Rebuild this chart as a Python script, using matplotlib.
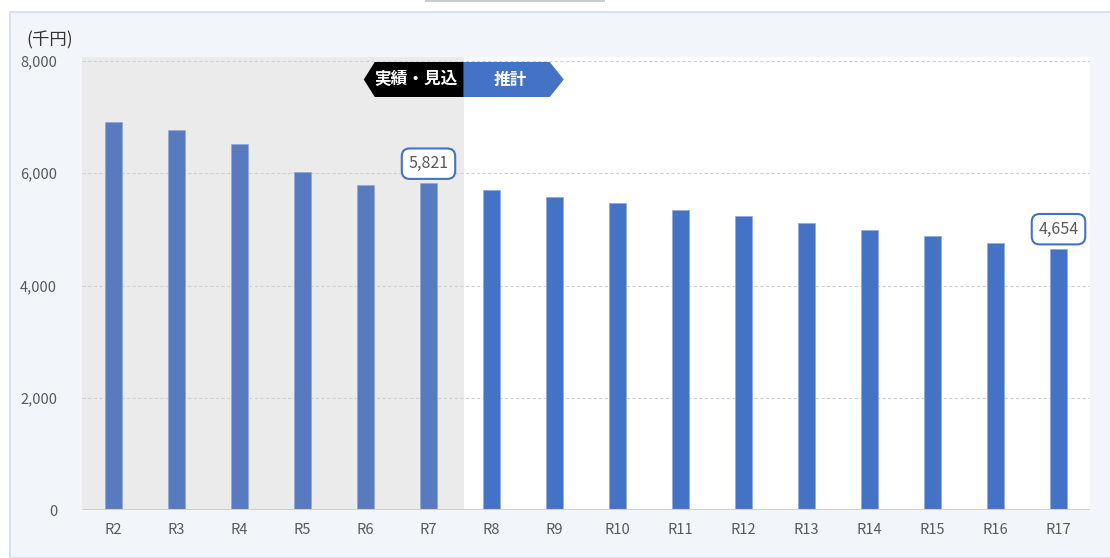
import matplotlib.pyplot as plt
from matplotlib.patches import Polygon, Rectangle
import matplotlib.transforms as mtransforms
import numpy as np

plt.rcParams['font.family'] = ['Noto Sans CJK JP', 'DejaVu Sans']

## data
years = ['R2', 'R3', 'R4', 'R5', 'R6', 'R7', 'R8', 'R9', 'R10',
         'R11', 'R12', 'R13', 'R14', 'R15', 'R16', 'R17']
values = [6910, 6770, 6520, 6025, 5790, 5821, 5705, 5580, 5470,
          5350, 5240, 5115, 4990, 4885, 4760, 4654]
n_actual = 6  # R2..R7 actual / forecast
labeled = {'R7': 5821, 'R17': 4654}
yticks = [0, 2000, 4000, 6000, 8000]

text_color = '#595959'
c_actual = '#587bbf'
c_forecast = '#4472c4'

W, H = 1110, 558
fig = plt.figure(figsize=(W / 100, H / 100), dpi=100)

# outer panel
fig.patches.append(Rectangle((10 / W, 0), 1.2, (H - 12) / H, transform=fig.transFigure,
                             facecolor='#f2f5fa', edgecolor='#d9e1ef', lw=1.5, zorder=-2))
fig.patches.append(Rectangle((425 / W, (H - 2) / H), 180 / W, 2 / H, transform=fig.transFigure,
                             facecolor='#c8ccd4', edgecolor='none', zorder=-2))

ax = fig.add_axes([82 / W, 48 / H, (1090 - 82) / W, (510 - 57) / H])
ax.set_facecolor('white')

x = np.arange(len(years))
colors = [c_actual if i < n_actual else c_forecast for i in range(len(years))]
ax.bar(x, values, width=0.27, color=colors, edgecolor='#8fa9da', linewidth=0.5, zorder=3)

ax.set_xlim(-0.5, len(years) - 0.5)
ax.set_ylim(0, 8000 * (510 - 57) / (510 - 61))

# shaded actual region
split = n_actual - 0.5
ax.axvspan(-0.5, split + 0.06, color='#ebebeb', zorder=0, lw=0)

for t in yticks[1:]:
    ax.axhline(t, color='#cfcfcf', lw=0.8, ls=(0, (3, 2)), zorder=1)
ax.axhline(0, color='#d0d0d0', lw=1.5, zorder=4)

ax.set_xticks(x)
ax.set_xticklabels(years, fontsize=10.5, color=text_color)
ax.set_yticks(yticks)
ax.set_yticklabels([f'{v:,}' for v in yticks], fontsize=10.5, color=text_color)
ax.tick_params(length=0, pad=9)
ax.tick_params(axis='y', pad=18)
for s in ax.spines.values():
    s.set_visible(False)

fig.text(26 / W, (H - 40) / H, '(千円)', fontsize=12.5, color='#333333', va='center', ha='left')

# data labels
for name, v in labeled.items():
    i = years.index(name)
    ax.annotate(f'{v:,}', (i, v), xytext=(0, 8), textcoords='offset points',
                ha='center', va='bottom', fontsize=11.5, color=text_color, zorder=6,
                bbox=dict(boxstyle='round,pad=0.42,rounding_size=0.5', fc='white',
                          ec='#4472c4', lw=1.5))

# arrow tags
trans = mtransforms.blended_transform_factory(ax.transData, ax.transAxes)
px = 1 / 63.0
y0 = 1 - (97 - 57) / (510 - 57)
y1 = 1 - (62 - 57) / (510 - 57)
ym = (y0 + y1) / 2
bx = split + 0.06
left = Polygon([(bx - 100 * px, ym), (bx - 89 * px, y1), (bx, y1), (bx, y0), (bx - 89 * px, y0)],
               closed=True, transform=trans, fc='black', ec='none', zorder=7, clip_on=False)
right = Polygon([(bx, y1), (bx + 86 * px, y1), (bx + 100 * px, ym), (bx + 86 * px, y0), (bx, y0)],
                closed=True, transform=trans, fc='#4472c4', ec='none', zorder=7, clip_on=False)
ax.add_patch(left)
ax.add_patch(right)
ax.text(bx - 48 * px, ym, '実績・見込', transform=trans, ha='center', va='center',
        color='white', fontsize=12, fontweight='bold', zorder=8)
ax.text(bx + 46 * px, ym, '推計', transform=trans, ha='center', va='center',
        color='white', fontsize=12, fontweight='bold', zorder=8)

fig.savefig('out.png', dpi=100)
